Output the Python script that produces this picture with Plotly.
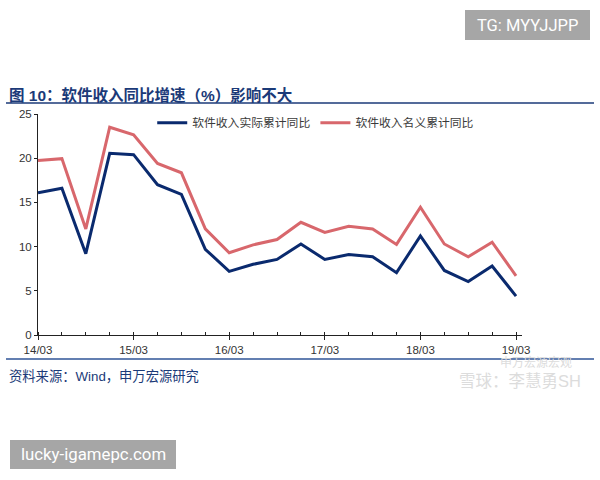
import plotly.graph_objects as go

periods = ["14/03","14/06","14/09","14/12","15/03","15/06","15/09","15/12",
           "16/03","16/06","16/09","16/12","17/03","17/06","17/09","17/12",
           "18/03","18/06","18/09","18/12","19/03"]
real_yoy = [16.1,16.6,9.2,20.55,20.4,17.0,15.9,9.7,7.2,8.0,8.55,10.3,8.55,9.1,8.85,7.05,11.2,7.3,6.05,7.8,4.4]
nominal_yoy = [19.75,19.95,12.0,23.5,22.65,19.4,18.35,12.0,9.3,10.2,10.8,12.75,11.6,12.3,12.0,10.25,14.45,10.3,8.85,10.5,6.7]
tick_labels = ["14/03","15/03","16/03","17/03","18/03","19/03"]
y_ticks = [0,5,10,15,20,25]

xpos = list(range(len(periods)))
tick_pos = [periods.index(t) for t in tick_labels]

FONT = "Liberation Sans, Noto Sans CJK SC, sans-serif"
BLUE = "#0A2A6E"
RED = "#D8676C"
NAVY = "#1B3A78"

fig = go.Figure()
fig.add_trace(go.Scatter(x=xpos, y=real_yoy, mode="lines", name="软件收入实际累计同比",
                         line=dict(color=BLUE, width=3)))
fig.add_trace(go.Scatter(x=xpos, y=nominal_yoy, mode="lines", name="软件收入名义累计同比",
                         line=dict(color=RED, width=3)))

fig.update_layout(
    width=600, height=480,
    margin=dict(l=38, r=78, t=114, b=145),
    paper_bgcolor="white", plot_bgcolor="white",
    font=dict(family=FONT, size=11, color="#333333"),
    showlegend=True,
    legend=dict(orientation="h", x=0.236, xanchor="left", y=0.96, yanchor="middle",
                bgcolor="rgba(0,0,0,0)", font=dict(size=11.8, color="#3a3a3a"),
                itemwidth=30, tracegroupgap=0),
    xaxis=dict(range=[0, 20.25], tickmode="array", tickvals=tick_pos, ticktext=tick_labels,
               showgrid=False, zeroline=False, showline=True, linecolor="#222", linewidth=1,
               ticks="outside", ticklen=4, tickcolor="#222",
               minor=dict(tickmode="linear", tick0=0, dtick=1, ticks="inside", ticklen=3, tickcolor="#222"),
               tickfont=dict(size=11.5, color="#333")),
    yaxis=dict(range=[0, 25], tickmode="array", tickvals=y_ticks,
               showgrid=False, zeroline=False, showline=True, linecolor="#222", linewidth=1,
               ticks="outside", ticklen=3, tickcolor="#222",
               tickfont=dict(size=11.5, color="#333")),
)

def px_x(px):
    return (px - 38) / 484

def px_y(py):
    return (335 - py) / 221

shapes = [
    dict(type="line", xref="paper", yref="paper", x0=px_x(6), x1=px_x(594), y0=px_y(103), y1=px_y(103),
         line=dict(color=NAVY, width=1.5)),
    dict(type="line", xref="paper", yref="paper", x0=px_x(6), x1=px_x(594), y0=px_y(359), y1=px_y(359),
         line=dict(color="#2F5597", width=1.5)),
    dict(type="rect", xref="paper", yref="paper", x0=px_x(465), x1=px_x(590), y0=px_y(40), y1=px_y(10),
         fillcolor="#A6A6A6", line=dict(width=0), layer="below"),
    dict(type="rect", xref="paper", yref="paper", x0=px_x(10), x1=px_x(176), y0=px_y(469), y1=px_y(440),
         fillcolor="#A6A6A6", line=dict(width=0), layer="below"),
]

annotations = [
    dict(text="<b>图 10：软件收入同比增速（%）影响不大</b>", xref="paper", yref="paper",
         x=px_x(7), y=px_y(95), xanchor="left", yanchor="middle", showarrow=False,
         font=dict(family="Liberation Sans, Noto Sans CJK SC", size=15.5, color=NAVY)),
    dict(text="资料来源：Wind，申万宏源研究", xref="paper", yref="paper",
         x=px_x(7), y=px_y(376), xanchor="left", yanchor="middle", showarrow=False,
         font=dict(size=13.3, color=NAVY)),
    dict(text="TG: MYYJJPP", xref="paper", yref="paper",
         x=px_x(527.5), y=px_y(25), xanchor="center", yanchor="middle", showarrow=False,
         font=dict(family="Roboto, Liberation Sans", size=16.5, color="white")),
    dict(text="lucky-igamepc.com", xref="paper", yref="paper",
         x=px_x(93), y=px_y(454.5), xanchor="center", yanchor="middle", showarrow=False,
         font=dict(family="Roboto, Liberation Sans", size=16.8, color="white")),
    dict(text="申万宏源宏观", xref="paper", yref="paper",
         x=px_x(536), y=px_y(362), xanchor="center", yanchor="middle", showarrow=False,
         font=dict(size=12, color="#DCDCDC")),
    dict(text="雪球：李慧勇SH", xref="paper", yref="paper",
         x=px_x(520), y=px_y(381), xanchor="center", yanchor="middle", showarrow=False,
         font=dict(size=16.5, color="#DCDCDC")),
]

fig.update_layout(shapes=shapes, annotations=annotations)
fig.write_html("out.html")
